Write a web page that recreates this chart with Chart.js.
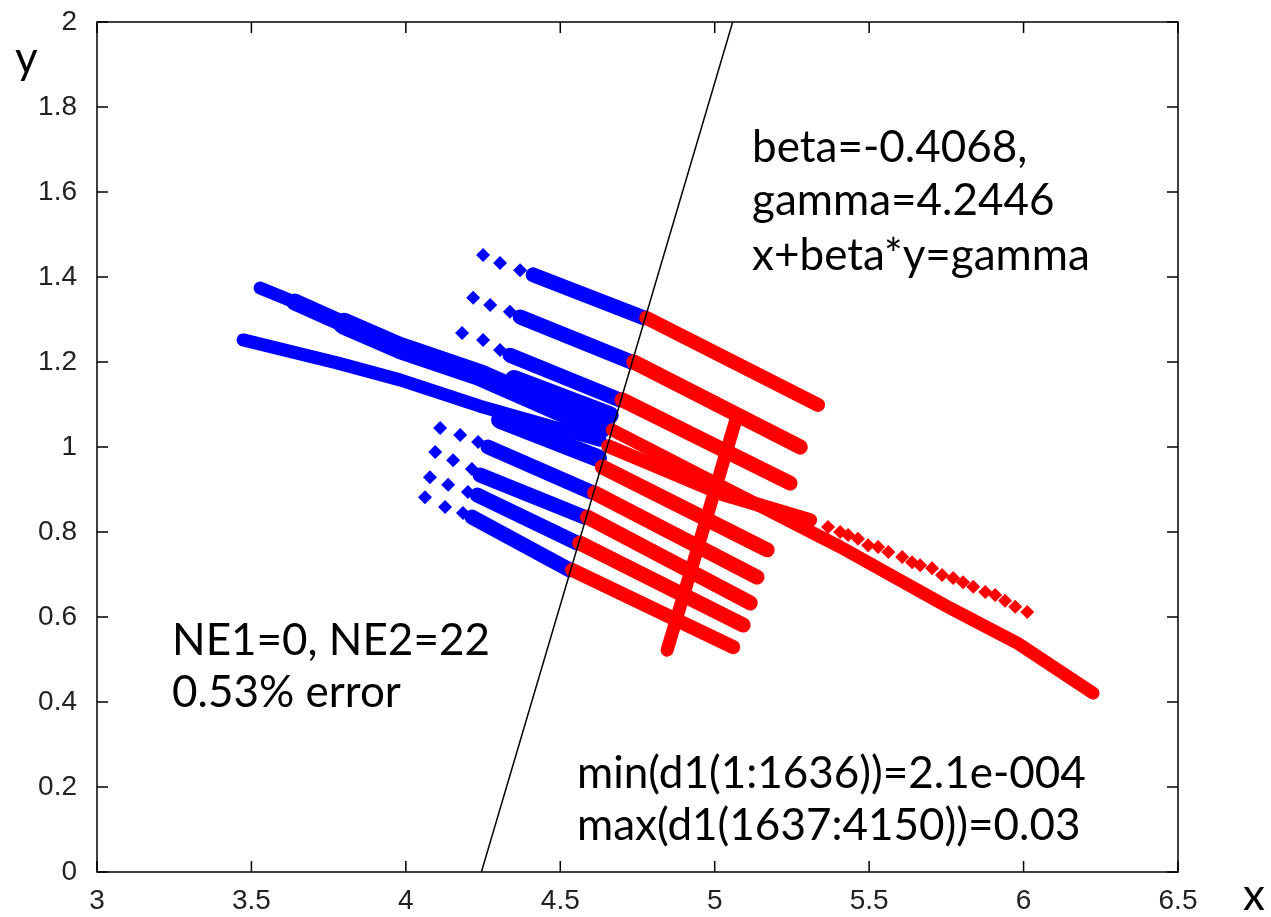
<!DOCTYPE html>
<html>
<head>
<meta charset="utf-8">
<script src="https://cdn.jsdelivr.net/npm/chart.js@4.4.0/dist/chart.umd.min.js"></script>
<style>
  html, body { margin: 0; padding: 0; background: #fff; }
</style>
</head>
<body>
<canvas id="myChart" width="1271" height="917"></canvas>
<script>
// separating line  x + beta*y = gamma
const beta = -0.4068;
const gamma = 4.2446;

// class 1 (blue): dense streaks as polylines, loose points as single markers
const blueStreaks = [
    [[3.528, 1.374], [3.700, 1.323]],
    [[3.640, 1.341], [3.850, 1.273]],
    [[3.800, 1.290], [3.981, 1.233], [4.240, 1.169], [4.629, 1.045]],
    [[3.473, 1.252], [3.777, 1.198], [3.981, 1.158], [4.240, 1.096], [4.629, 1.016]],
    [[4.305, 1.064], [4.622, 0.974]],
    [[4.350, 1.160], [4.660, 1.075]],
    [[4.412, 1.405], [4.770, 1.304]],
    [[4.370, 1.306], [4.730, 1.200]],
    [[4.337, 1.216], [4.692, 1.111]],
    [[4.266, 1.000], [4.600, 0.894]],
    [[4.240, 0.934], [4.578, 0.835]],
    [[4.231, 0.887], [4.554, 0.774]],
    [[4.214, 0.835], [4.530, 0.711]]
];
const blueDots = [
    [4.250, 1.452], [4.305, 1.433], [4.370, 1.416],
    [4.218, 1.351], [4.273, 1.334], [4.337, 1.318],
    [4.182, 1.268], [4.250, 1.252], [4.305, 1.228],
    [4.111, 1.045], [4.176, 1.028], [4.234, 1.012],
    [4.095, 0.988], [4.153, 0.969], [4.214, 0.948],
    [4.078, 0.929], [4.137, 0.911], [4.201, 0.894],
    [4.062, 0.882], [4.127, 0.859], [4.185, 0.845]
];

// class 2 (red)
const redStreaks = [
    [[4.778, 1.304], [5.335, 1.099]],
    [[4.738, 1.200], [5.277, 1.000]],
    [[4.700, 1.111], [5.244, 0.915]],
    [[4.668, 1.040], [5.027, 0.906], [5.406, 0.765], [5.762, 0.621], [5.979, 0.539], [6.225, 0.421]],
    [[4.655, 1.002], [5.027, 0.889], [5.309, 0.828]],
    [[4.636, 0.953], [5.170, 0.758]],
    [[4.611, 0.892], [5.137, 0.694]],
    [[4.588, 0.835], [5.115, 0.633]],
    [[4.563, 0.774], [5.092, 0.581]],
    [[4.538, 0.711], [5.060, 0.529]],
    [[4.846, 0.522], [4.943, 0.758], [5.073, 1.075]]
];
const redDots = [
    [5.309, 0.828], [5.367, 0.812], [5.406, 0.800], [5.432, 0.793], [5.464, 0.784],
    [5.497, 0.769], [5.529, 0.765], [5.562, 0.753], [5.607, 0.741], [5.639, 0.729],
    [5.665, 0.722], [5.704, 0.715], [5.736, 0.699], [5.772, 0.692], [5.804, 0.682],
    [5.837, 0.671], [5.876, 0.659], [5.908, 0.652], [5.940, 0.638], [5.973, 0.624],
    [6.012, 0.612]
];

const blueWidths = [13, 17, 22, 13, 18, 18, 15, 15, 15, 15, 15, 15, 15];
const redWidths = [14, 15, 15, 13, 14, 15, 15, 15, 15, 14, 13];

const notes = [
    { text: 'beta=-0.4068,', x: 5.121, y: 1.671 },
    { text: 'gamma=4.2446', x: 5.121, y: 1.546 },
    { text: 'x+beta*y=gamma', x: 5.121, y: 1.416 },
    { text: 'NE1=0, NE2=22', x: 3.243, y: 0.511 },
    { text: '0.53% error', x: 3.243, y: 0.388 },
    { text: 'min(d1(1:1636))=2.1e-004', x: 4.554, y: 0.198 },
    { text: 'max(d1(1637:4150))=0.03', x: 4.554, y: 0.075 }
];

const toPts = arr => arr.map(p => ({ x: p[0], y: p[1] }));

function streakSets(list, widths, color, order) {
    return list.map((s, i) => ({
        data: toPts(s),
        showLine: true,
        borderColor: color,
        borderWidth: widths[i],
        borderCapStyle: 'round',
        borderJoinStyle: 'round',
        pointRadius: 0,
        order: order
    }));
}

const datasets = [
    {
        data: [{ x: gamma - beta * 0, y: 0 }, { x: gamma - beta * 2, y: 2 }],
        showLine: true,
        borderColor: '#000',
        borderWidth: 1.5,
        pointRadius: 0,
        order: 0
    },
    ...streakSets(redStreaks, redWidths, '#ff0000', 1),
    {
        data: toPts(redDots),
        pointStyle: 'rectRot',
        pointRadius: 7,
        backgroundColor: '#ff0000',
        borderWidth: 0,
        order: 1
    },
    ...streakSets(blueStreaks, blueWidths, '#0000ff', 2),
    {
        data: toPts(blueDots),
        pointStyle: 'rectRot',
        pointRadius: 7,
        backgroundColor: '#0000ff',
        borderWidth: 0,
        order: 2
    }
];

// box round the plot with inward tick marks on all four sides, plus the text
const frame = {
    id: 'frame',
    afterDraw(chart) {
        const { ctx, chartArea: a, scales } = chart;
        ctx.save();
        ctx.strokeStyle = '#000';
        ctx.lineWidth = 1.5;
        ctx.strokeRect(a.left, a.top, a.right - a.left, a.bottom - a.top);
        ctx.beginPath();
        scales.x.ticks.forEach(t => {
            const px = scales.x.getPixelForValue(t.value);
            ctx.moveTo(px, a.bottom); ctx.lineTo(px, a.bottom - 11);
            ctx.moveTo(px, a.top); ctx.lineTo(px, a.top + 11);
        });
        scales.y.ticks.forEach(t => {
            const py = scales.y.getPixelForValue(t.value);
            ctx.moveTo(a.left, py); ctx.lineTo(a.left + 11, py);
            ctx.moveTo(a.right, py); ctx.lineTo(a.right - 11, py);
        });
        ctx.stroke();

        ctx.fillStyle = '#000';
        ctx.textBaseline = 'alphabetic';
        ctx.textAlign = 'left';
        ctx.font = '44px Lato';
        notes.forEach(n => {
            ctx.fillText(n.text, scales.x.getPixelForValue(n.x), scales.y.getPixelForValue(n.y));
        });
        ctx.fillText('y', 15, 73);
        ctx.fillText('x', 1243, 910);
        ctx.restore();
    }
};

const tickFont = { family: 'Liberation Sans', size: 28 };
const tickText = v => String(Number(v.toFixed(1)));

new Chart(document.getElementById('myChart'), {
    type: 'scatter',
    data: { datasets: datasets },
    options: {
        responsive: false,
        animation: false,
        events: [],
        layout: { padding: { left: 0, top: 22, right: 93, bottom: 0 } },
        plugins: { legend: { display: false }, tooltip: { enabled: false } },
        scales: {
            x: {
                type: 'linear',
                min: 3,
                max: 6.5,
                ticks: { stepSize: 0.5, font: tickFont, color: '#222', padding: 4, callback: tickText },
                grid: { display: false },
                border: { display: false },
                afterFit: s => { s.height = 45; }
            },
            y: {
                type: 'linear',
                min: 0,
                max: 2,
                ticks: { stepSize: 0.2, font: tickFont, color: '#222', padding: 12, callback: tickText },
                grid: { display: false },
                border: { display: false },
                afterFit: s => { s.width = 97; s.paddingTop = 0; s.paddingBottom = 0; }
            }
        }
    },
    plugins: [frame]
});
</script>
</body>
</html>
